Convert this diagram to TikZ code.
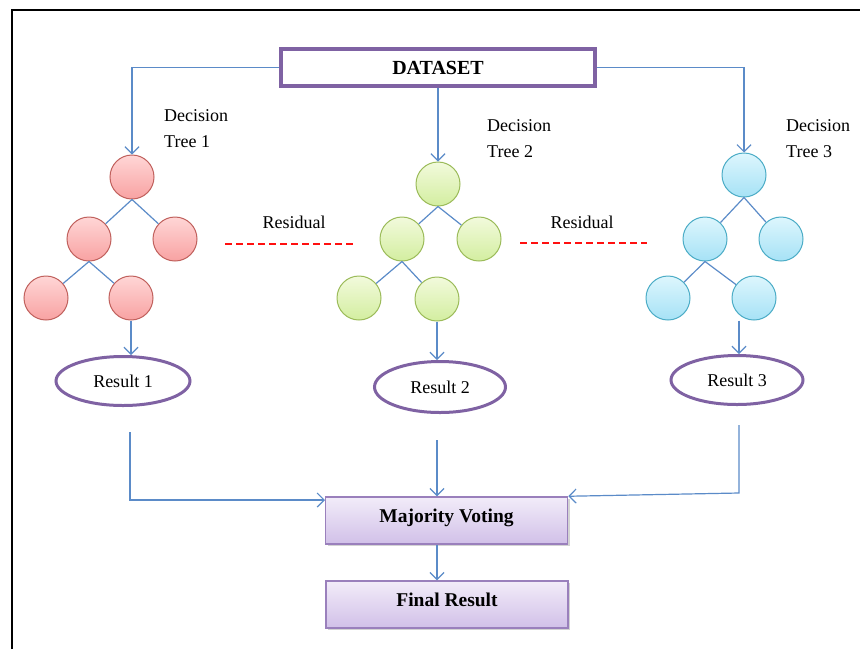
\documentclass[tikz,border=0pt]{standalone}
\usepackage{fontspec}
\setmainfont{Liberation Serif}
\usetikzlibrary{arrows.meta,shadows,calc,shapes.geometric}
\definecolor{conncol}{HTML}{5B8BC8}
\definecolor{purp}{HTML}{7F62A3}
\definecolor{boxborder}{HTML}{9A80BC}
\definecolor{boxtop}{HTML}{F2ECF9}
\definecolor{boxbot}{HTML}{D1C0E8}
\definecolor{redfillA}{HTML}{FFD6D6}
\definecolor{redfillB}{HTML}{F8A2A2}
\definecolor{redline}{HTML}{C0605C}
\definecolor{grnfillA}{HTML}{F2FADC}
\definecolor{grnfillB}{HTML}{D3EEA0}
\definecolor{grnline}{HTML}{9BBB59}
\definecolor{blufillA}{HTML}{DDF6FD}
\definecolor{blufillB}{HTML}{A6E2F6}
\definecolor{bluline}{HTML}{4BACC6}
\definecolor{residred}{HTML}{FF1010}
\tikzset{
  txt/.style={font=\fontsize{18}{26}\selectfont, inner sep=0pt},
  conn/.style={draw=conncol, line width=1.2pt, -{Straight Barb[length=7pt,width=14pt,line width=1.2pt]}},
  edge/.style={draw=conncol, line width=1.2pt},
  tnode/.style={circle, minimum size=44pt, inner sep=0pt, line width=1pt},
  rednode/.style={tnode, draw=redline, top color=redfillA, bottom color=redfillB},
  grnnode/.style={tnode, draw=grnline, top color=grnfillA, bottom color=grnfillB},
  blunode/.style={tnode, draw=bluline, top color=blufillA, bottom color=blufillB},
  resnode/.style={ellipse, draw=purp, line width=3pt, fill=white, inner sep=0pt, font=\fontsize{18}{20}\selectfont},
  purplebox/.style={draw=boxborder, line width=1.5pt, top color=boxtop, bottom color=boxbot, inner sep=0pt,
     drop shadow={shadow xshift=2pt, shadow yshift=-2pt, opacity=0.35, fill=gray}, font=\bfseries\fontsize{19.5}{20}\selectfont},
  resid/.style={draw=residred, line width=1.2pt, dash pattern=on 7pt off 4pt},
}
\begin{document}
\begin{tikzpicture}[x=1pt,y=-1pt]
\useasboundingbox (0,0) rectangle (860,649);
% frame
\draw[line width=2pt, black] (12,649) -- (12,10) -- (860,10);

% dataset
\node[draw=purp, line width=3.5pt, fill=white, minimum width=314pt, minimum height=37pt, inner sep=0pt,
      font=\bfseries\fontsize{20}{20}\selectfont] (ds) at (438,67.5) {DATASET};

% tree 1
\node[rednode] (r1) at (132,177) {};
\node[rednode] (c1a) at (89,239) {};
\node[rednode] (c1b) at (175,239) {};
\node[rednode] (l1a) at (46,298) {};
\node[rednode] (l1b) at (131,298) {};
% tree 2
\node[grnnode] (r2) at (438,184) {};
\node[grnnode] (c2a) at (402,239) {};
\node[grnnode] (c2b) at (479,239) {};
\node[grnnode] (l2a) at (359,298) {};
\node[grnnode] (l2b) at (437,299) {};
% tree 3
\node[blunode] (r3) at (744,175) {};
\node[blunode] (c3a) at (705,239) {};
\node[blunode] (c3b) at (781,239) {};
\node[blunode] (l3a) at (668,298) {};
\node[blunode] (l3b) at (754,298) {};

\foreach \t in {1,2,3}{
  \draw[edge] (r\t.south) -- (c\t a);
  \draw[edge] (r\t.south) -- (c\t b);
  \draw[edge] (c\t a.south) -- (l\t a);
  \draw[edge] (c\t a.south) -- (l\t b);
}

% labels
\node[txt, align=left, anchor=west] (lab1) at (164,129) {Decision\\Tree 1};
\node[txt, align=left, anchor=west] (lab2) at (487,139) {Decision\\Tree 2};
\node[txt, align=left, anchor=west] (lab3) at (786,139) {Decision\\Tree 3};

% residual
\node[txt] (res1lab) at (294,222) {Residual};
\node[txt] (res2lab) at (582,222) {Residual};
\coordinate (d1a) at (225,244);
\coordinate (d1b) at (353,244);
\coordinate (d2a) at (520,243);
\coordinate (d2b) at (647,243);
\draw[resid] (d1a) -- (d1b);
\draw[resid] (d2a) -- (d2b);

% results
\node[resnode, minimum width=134pt, minimum height=49pt] (res1) at (123,381) {Result 1};
\node[resnode, minimum width=131pt, minimum height=51pt] (res2) at (440,387) {Result 2};
\node[resnode, minimum width=132pt, minimum height=49pt] (res3) at (737,380) {Result 3};

% dataset connectors
\draw[conn] (ds.west) -| (r1.north);
\draw[conn] (ds.south) -- (ds.south |- r2.north);
\draw[conn] (ds.east) -| (r3.north);

% leaves to results
\draw[conn] (l1b.south) -- (l1b.south |- res1.north);
\draw[conn] (l2b.south) -- (l2b.south |- res2.north);
\draw[conn] ([xshift=-15pt]l3b.south) -- ([xshift=-15pt]l3b.south |- res3.north);

% majority voting and final
\node[purplebox, minimum width=242pt, minimum height=47pt] (mv) at (446.5,520.5) {\raisebox{9pt}{Majority Voting}};
\node[purplebox, minimum width=242pt, minimum height=47pt] (fr) at (447,604.5) {\raisebox{9pt}{Final Result}};

\coordinate (s1) at (130,432);
\coordinate (e1) at (325,500);
\coordinate (s2) at (437,440);
\coordinate (s3) at (739,425);
\coordinate (k3) at (739,493);
\draw[conn] (s1) |- (e1);
\draw[conn] (s2) -- (s2 |- mv.north);
\draw[conn] (s3) -- (k3) -- (mv.north east);
\draw[conn] (mv.south -| s2) -- (fr.north -| s2);
\end{tikzpicture}
\end{document}
